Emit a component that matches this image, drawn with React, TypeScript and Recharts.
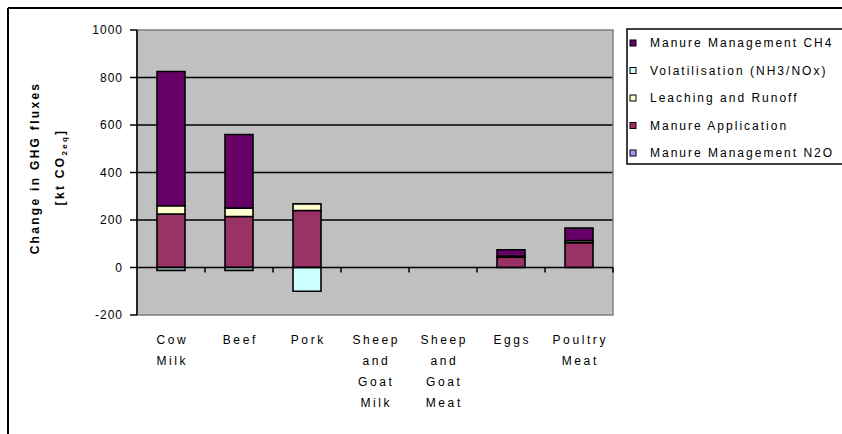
import React from "react";
import {
  BarChart,
  Bar,
  XAxis,
  YAxis,
  CartesianGrid,
  ReferenceLine,
  ReferenceArea,
} from "recharts";

// ---------------------------------------------------------------------------
// Data (kt CO2eq), stacked bottom -> top in the same order as SERIES below
// ---------------------------------------------------------------------------

const categories = [
  "Cow Milk",
  "Beef",
  "Pork",
  "Sheep and Goat Milk",
  "Sheep and Goat Meat",
  "Eggs",
  "Poultry Meat",
];

const manureMgmtN2O = [0, 0, 0, 0, 0, 0, 0];
const manureApplication = [225, 215, 240, 0, 0, 43, 104];
const leachingRunoff = [35, 35, 28, 0, 0, 5, 9];
const volatilisation = [-12, -12, -100, 0, 0, 0, 0];
const manureMgmtCH4 = [565, 310, 0, 0, 0, 27, 53];

const yTicks = [-200, 0, 200, 400, 600, 800, 1000];
const gridValues = [200, 400, 600, 800];

const SERIES = [
  { key: "n2o", label: "Manure Management N2O", color: "#9999ff", values: manureMgmtN2O },
  { key: "app", label: "Manure Application", color: "#993366", values: manureApplication },
  { key: "leach", label: "Leaching and Runoff", color: "#ffffcc", values: leachingRunoff },
  { key: "volat", label: "Volatilisation  (NH3/NOx)", color: "#ccffff", values: volatilisation },
  { key: "ch4", label: "Manure Management CH4", color: "#660066", values: manureMgmtCH4 },
];

const data = categories.map((name, i) => {
  const row: Record<string, string | number> = { name };
  SERIES.forEach((s) => {
    row[s.key] = s.values[i];
  });
  return row;
});

// ---------------------------------------------------------------------------
// Layout
// ---------------------------------------------------------------------------

const W = 842;
const H = 434;
const PLOT_LEFT = 137;
const PLOT_RIGHT = 613;
const PLOT_TOP = 30;
const PLOT_BOTTOM = 315;
const Y_MIN = -200;
const Y_MAX = 1000;
const XAXIS_H = 100;
const YAXIS_W = 60;
const ZERO_Y = PLOT_TOP + ((PLOT_BOTTOM - PLOT_TOP) * Y_MAX) / (Y_MAX - Y_MIN);

const FONT = "'Liberation Sans', Arial, sans-serif";

function YTick(props: any) {
  const { x, y, payload } = props;
  return (
    <text
      x={x + 1}
      y={y}
      dy="0.36em"
      textAnchor="end"
      fontSize={12}
      letterSpacing={1}
      fontFamily={FONT}
      fill="#000"
    >
      {payload.value}
    </text>
  );
}

function XTick(props: any) {
  const { x, y, payload } = props;
  const words = String(payload.value).split(" ");
  const edge = x + (payload.offset ?? 0);
  return (
    <g>
      <line x1={edge} x2={edge} y1={ZERO_Y} y2={ZERO_Y + 5} stroke="#000" strokeWidth={1.5} />
      <text
        x={x + 1.3}
        y={y + 29}
        textAnchor="middle"
        fontSize={12}
        letterSpacing={2.6}
        fontFamily={FONT}
        fill="#000"
      >
        {words.map((w, i) => (
          <tspan key={i} x={x + 1.3} dy={i === 0 ? 0 : 21}>
            {w}
          </tspan>
        ))}
      </text>
    </g>
  );
}

export default function App() {
  const legendItems = [...SERIES].reverse();
  return (
    <div
      style={{
        position: "fixed",
        left: 0,
        top: 0,
        width: W,
        height: H,
        background: "#fff",
        overflow: "hidden",
      }}
    >
      <div style={{ position: "absolute", left: 0, top: 0 }}>
        <BarChart
          width={W}
          height={H}
          data={data}
          stackOffset="sign"
          barSize={28}
          margin={{
            top: PLOT_TOP,
            right: W - PLOT_RIGHT,
            bottom: H - PLOT_BOTTOM - XAXIS_H,
            left: PLOT_LEFT - YAXIS_W,
          }}
        >
          <CartesianGrid
            vertical={false}
            horizontalValues={gridValues}
            fill="#c0c0c0"
            fillOpacity={1}
            stroke="#000"
            strokeWidth={1.5}
          />
          <ReferenceArea y1={Y_MIN} y2={Y_MAX} fill="none" stroke="#808080" strokeWidth={1.5} />
          <XAxis
            dataKey="name"
            height={XAXIS_H}
            axisLine={false}
            tickLine={false}
            tickSize={0}
            tickMargin={0}
            interval={0}
            tick={<XTick />}
          />
          <YAxis
            domain={[Y_MIN, Y_MAX]}
            ticks={yTicks}
            interval={0}
            width={YAXIS_W}
            tickSize={7}
            tickMargin={8}
            axisLine={{ stroke: "#000", strokeWidth: 1.5 }}
            tickLine={{ stroke: "#000", strokeWidth: 1.5 }}
            tick={<YTick />}
          />
          <ReferenceLine y={0} stroke="#000" strokeWidth={1.5} />
          {SERIES.map((s) => (
            <Bar
              key={s.key}
              dataKey={s.key}
              name={s.label}
              stackId="a"
              fill={s.color}
              stroke="#000"
              strokeWidth={1.6}
              isAnimationActive={false}
            />
          ))}
        </BarChart>
      </div>

      <svg
        width={W}
        height={H}
        style={{ position: "absolute", left: 0, top: 0, pointerEvents: "none" }}
        fontFamily={FONT}
      >
        {/* outer chart frame (clipped on the right and bottom) */}
        <line x1={8} y1={8} x2={W} y2={8} stroke="#000" strokeWidth={2} />
        <line x1={8} y1={8} x2={8} y2={H} stroke="#000" strokeWidth={2} />

        {/* y-axis title */}
        <text
          transform="translate(39,168) rotate(-90)"
          textAnchor="middle"
          fontSize={12}
          fontWeight="bold"
          letterSpacing={2.3}
          fill="#000"
        >
          Change in GHG fluxes
        </text>
        <text
          transform="translate(64,167) rotate(-90)"
          textAnchor="middle"
          fontSize={12}
          fontWeight="bold"
          letterSpacing={2.3}
          fill="#000"
        >
          [kt CO
          <tspan fontSize={8} dy={3}>
            2eq
          </tspan>
          <tspan dy={-3}>]</tspan>
        </text>

        {/* legend */}
        <rect x={627} y={29} width={260} height={135} fill="#fff" stroke="#000" strokeWidth={1.5} />
        {legendItems.map((s, i) => {
          const cy = 43 + i * 27.5;
          return (
            <g key={s.key}>
              <rect x={630} y={cy - 3} width={6} height={6} fill={s.color} stroke="#000" strokeWidth={1} />
              <text x={650} y={cy} dy="0.36em" fontSize={12} letterSpacing={2} fill="#000">
                {s.label}
              </text>
            </g>
          );
        })}
      </svg>
    </div>
  );
}
